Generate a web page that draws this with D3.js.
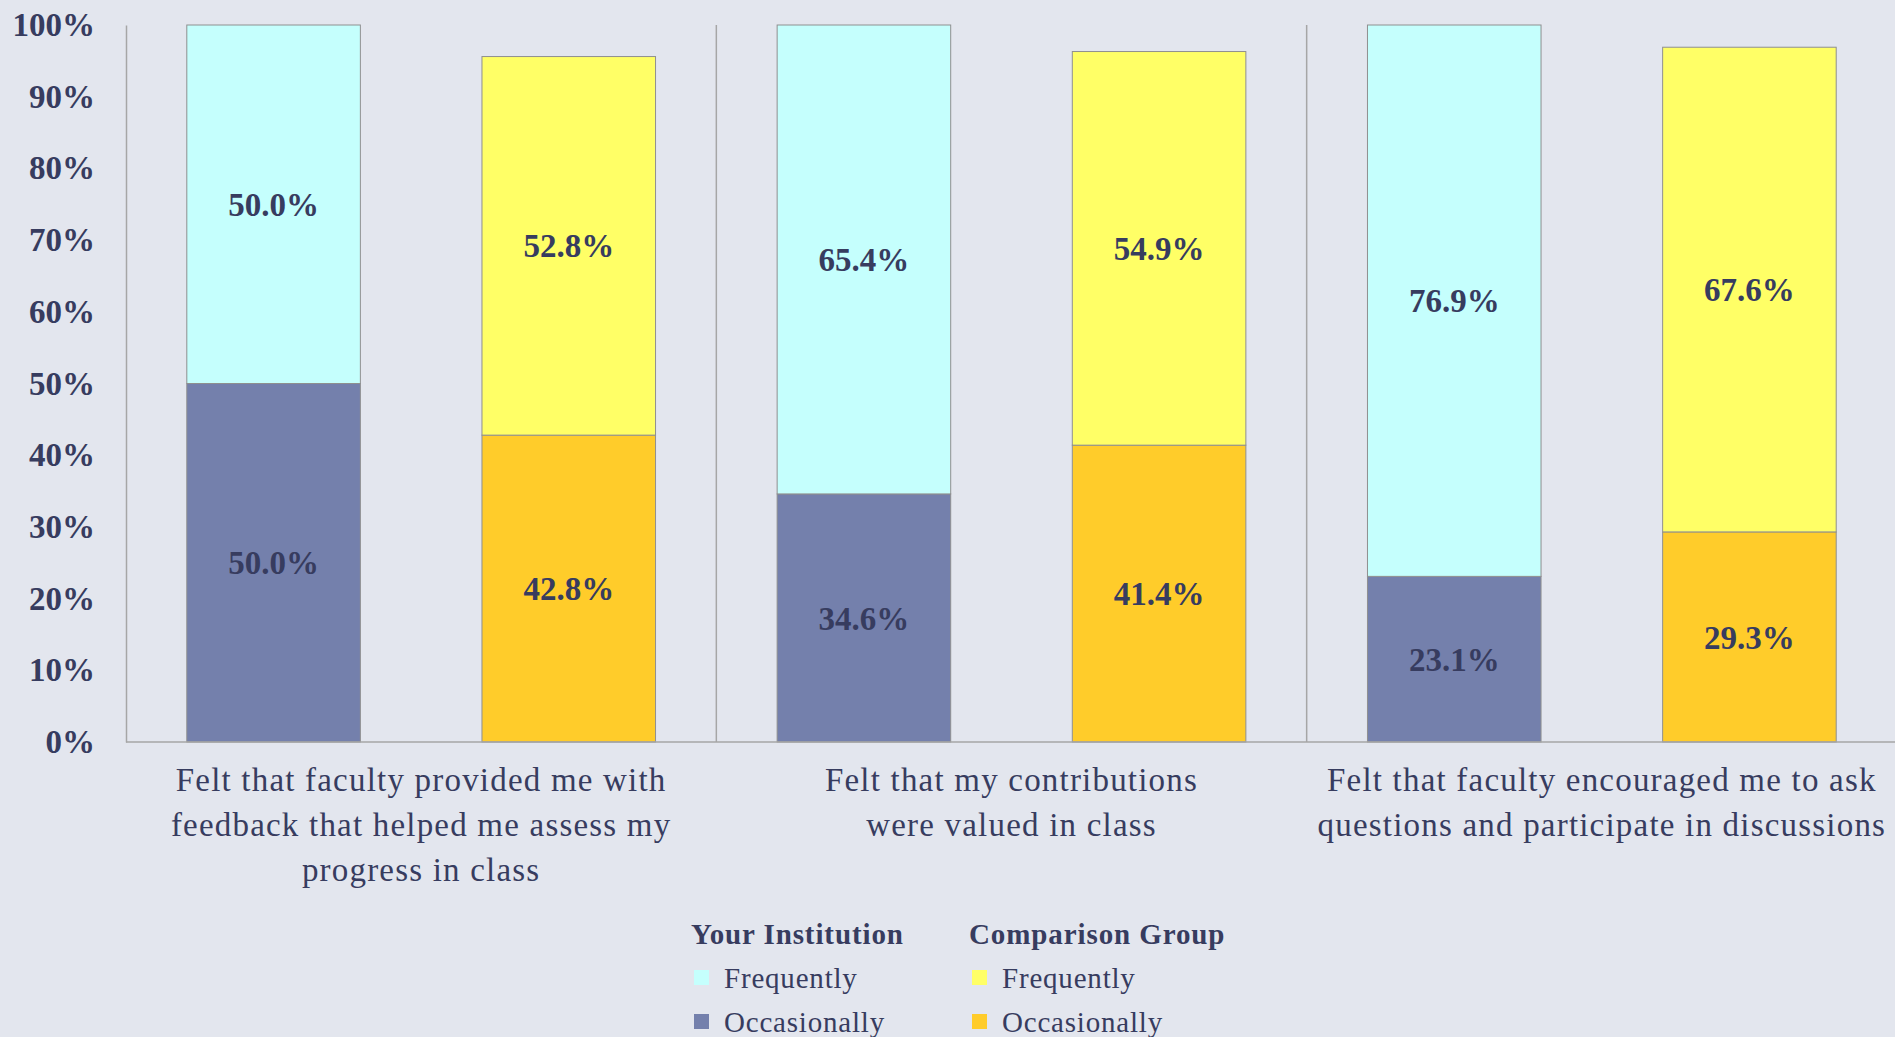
<!DOCTYPE html>
<html>
<head>
<meta charset="utf-8">
<script src="https://cdn.jsdelivr.net/npm/d3@7"></script>
<style>
  body { margin: 0; background: #e3e6ee; }
  svg { display: block; }
</style>
</head>
<body>
<svg id="chart"></svg>
<script>
// data
const categories = [
  "Felt that faculty provided me with|feedback that helped me assess my|progress in class",
  "Felt that my contributions|were valued in class",
  "Felt that faculty encouraged me to ask|questions and participate in discussions"
];
const groups = ["Your Institution", "Comparison Group"];
const instFrequently = [50.0, 65.4, 76.9];
const instOccasionally = [50.0, 34.6, 23.1];
const compFrequently = [52.8, 54.9, 67.6];
const compOccasionally = [42.8, 41.4, 29.3];
const yTicks = [0, 10, 20, 30, 40, 50, 60, 70, 80, 90, 100];

const W = 1895, H = 1037;
const margin = { top: 25, left: 126, right: -2, bottom: 295 };
const iw = W - margin.left - margin.right;
const ih = H - margin.top - margin.bottom;

const textColor = "#373c5f";
const colors = {
  "Your Institution": { Frequently: "#c5fffd", Occasionally: "#7480ac" },
  "Comparison Group": { Frequently: "#ffff66", Occasionally: "#ffcc2a" }
};
const serif = "'Liberation Serif', 'Times New Roman', serif";

const svg = d3.select("#chart").attr("width", W).attr("height", H);
svg.append("rect").attr("width", "100%").attr("height", "100%").style("fill", "#e3e6ee");

const g = svg.append("g").attr("transform", "translate(" + margin.left + "," + margin.top + ")");

const x0 = d3.scaleBand().domain(d3.range(categories.length)).range([0, iw]).padding(0);
const x1 = d3.scaleBand().domain(groups).range([0, x0.bandwidth()]).paddingInner(0.412).paddingOuter(0.206);
const y = d3.scaleLinear().domain([0, 100]).range([ih, 0]);

// build stacked rows
const rows = [];
categories.forEach((c, i) => {
  const sets = [
    [groups[0], instOccasionally[i], instFrequently[i]],
    [groups[1], compOccasionally[i], compFrequently[i]]
  ];
  sets.forEach(([grp, occ, freq]) => {
    rows.push({ cat: i, grp, key: "Occasionally", y0: 0, y1: occ, v: occ });
    rows.push({ cat: i, grp, key: "Frequently", y0: occ, y1: occ + freq, v: freq });
  });
});

// separators between categories
g.selectAll(".sep")
  .data(d3.range(1, categories.length))
  .enter().append("line")
  .attr("x1", d => x0(d)).attr("x2", d => x0(d))
  .attr("y1", 0).attr("y2", ih)
  .attr("stroke", "#a6a6a6").attr("stroke-width", 1.5);

// bars
g.selectAll(".bar")
  .data(rows)
  .enter().append("rect")
  .attr("x", d => x0(d.cat) + x1(d.grp))
  .attr("width", x1.bandwidth())
  .attr("y", d => y(d.y1))
  .attr("height", d => y(d.y0) - y(d.y1))
  .style("fill", d => colors[d.grp][d.key])
  .attr("stroke", "#8f8f8f")
  .attr("stroke-width", 1);

// value labels
g.selectAll(".val")
  .data(rows)
  .enter().append("text")
  .attr("x", d => x0(d.cat) + x1(d.grp) + x1.bandwidth() / 2)
  .attr("y", d => y((d.y0 + d.y1) / 2))
  .attr("dy", "0.35em")
  .attr("text-anchor", "middle")
  .attr("fill", textColor)
  .style("font-family", serif)
  .style("font-weight", "bold")
  .style("font-size", "33px")
  .text(d => d.v.toFixed(1) + "%");

// y axis
const yAxis = g.append("g")
  .call(d3.axisLeft(y).tickValues(yTicks).tickFormat(d => d + "%").tickSize(0).tickPadding(31));
yAxis.select(".domain").attr("stroke", "#a6a6a6").attr("stroke-width", 1.5);
yAxis.selectAll("text")
  .attr("fill", textColor)
  .style("font-family", serif)
  .style("font-weight", "bold")
  .style("font-size", "33px");

// baseline
g.append("line")
  .attr("x1", 0).attr("x2", iw)
  .attr("y1", ih).attr("y2", ih)
  .attr("stroke", "#a6a6a6").attr("stroke-width", 1.5);

// category labels
const catLabels = g.selectAll(".cat")
  .data(categories)
  .enter().append("text")
  .attr("text-anchor", "middle")
  .attr("fill", textColor)
  .style("font-family", serif)
  .style("font-size", "33px")
  .style("letter-spacing", "1.2px");
catLabels.each(function (d, i) {
  const t = d3.select(this);
  d.split("|").forEach((line, j) => {
    t.append("tspan")
      .attr("x", x0(i) + x0.bandwidth() / 2)
      .attr("y", ih + 49 + j * 45)
      .text(line);
  });
});

// legend
const legend = svg.append("g").attr("transform", "translate(691,0)");
const legendCols = [0, 278];
groups.forEach((grp, gi) => {
  const col = legend.append("g").attr("transform", "translate(" + legendCols[gi] + ",0)");
  col.append("text")
    .attr("x", 0).attr("y", 944)
    .attr("fill", textColor)
    .style("font-family", serif)
    .style("font-weight", "bold")
    .style("font-size", "29px")
    .style("letter-spacing", "0.9px")
    .text(grp);
  ["Frequently", "Occasionally"].forEach((k, ki) => {
    const yy = 978 + ki * 44;
    col.append("rect")
      .attr("x", 3).attr("y", yy - 8)
      .attr("width", 15).attr("height", 15)
      .style("fill", colors[grp][k]);
    col.append("text")
      .attr("x", 33).attr("y", yy)
      .attr("dy", "0.35em")
      .attr("fill", textColor)
      .style("font-family", serif)
      .style("font-size", "29px")
      .style("letter-spacing", "0.8px")
      .text(k);
  });
});
</script>
</body>
</html>
